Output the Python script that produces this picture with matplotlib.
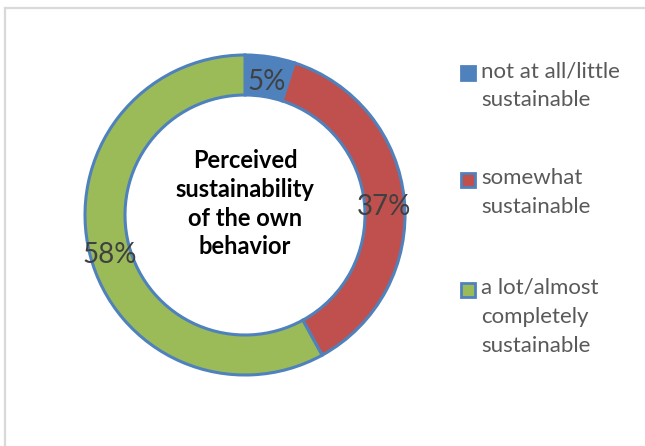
import matplotlib
matplotlib.use("Agg")
import matplotlib.pyplot as plt
from matplotlib.patches import Rectangle
from matplotlib.lines import Line2D
from matplotlib.transforms import offset_copy

categories = ["not at all/little\nsustainable",
              "somewhat\nsustainable",
              "a lot/almost\ncompletely\nsustainable"]
shares = [5, 37, 58]
colors = ["#4F81BD", "#C0504D", "#9BBB59"]
edge = "#4F81BD"
center_title = "Perceived\nsustainability\nof the own\nbehavior"

W, H = 645, 446
fig = plt.figure(figsize=(W / 100, H / 100), dpi=100)
fig.patch.set_facecolor("white")

# light chart-area border (top and left edges)
border = dict(transform=fig.transFigure, color="#D9D9D9", linewidth=1.6)
fig.lines.append(Line2D([5 / W, 1.01], [(H - 8) / H] * 2, **border))
fig.lines.append(Line2D([5 / W] * 2, [-0.01, (H - 8) / H], **border))

cx, cy, r = 245, 215, 160
ax = fig.add_axes([(cx - r) / W, (H - cy - r) / H, 2 * r / W, 2 * r / H])

wedges, texts, autotexts = ax.pie(
    shares, colors=colors, startangle=90, counterclock=False, radius=1,
    autopct=lambda p: f"{p:.0f}%", pctdistance=0.875,
    wedgeprops=dict(width=0.25, edgecolor=edge, linewidth=2.2),
    textprops=dict(family="Lato", fontsize=20, color="#404040"))
ax.set_xlim(-1, 1)
ax.set_ylim(-1, 1)
ax.set_aspect("equal")
ax.axis("off")
for t in autotexts:
    t.set_transform(offset_copy(ax.transData, fig=fig, y=-5, units="dots"))

ax.text(0, 0.07, center_title, ha="center", va="center", family="Lato",
        fontweight="bold", fontsize=17, color="black", linespacing=1.3)

# legend
rows = [73, 180, 290]
for lab, col, y in zip(categories, colors, rows):
    fig.patches.append(Rectangle((461 / W, (H - y - 7) / H), 14 / W, 14 / H,
                                 transform=fig.transFigure, facecolor=col,
                                 edgecolor=edge, linewidth=2.0))
    fig.text(481 / W, (H - y + 12) / H, lab, ha="left", va="top",
             family="Lato", fontsize=16, color="#595959", linespacing=1.55)

fig.savefig("out.png", dpi=100, facecolor="white")
